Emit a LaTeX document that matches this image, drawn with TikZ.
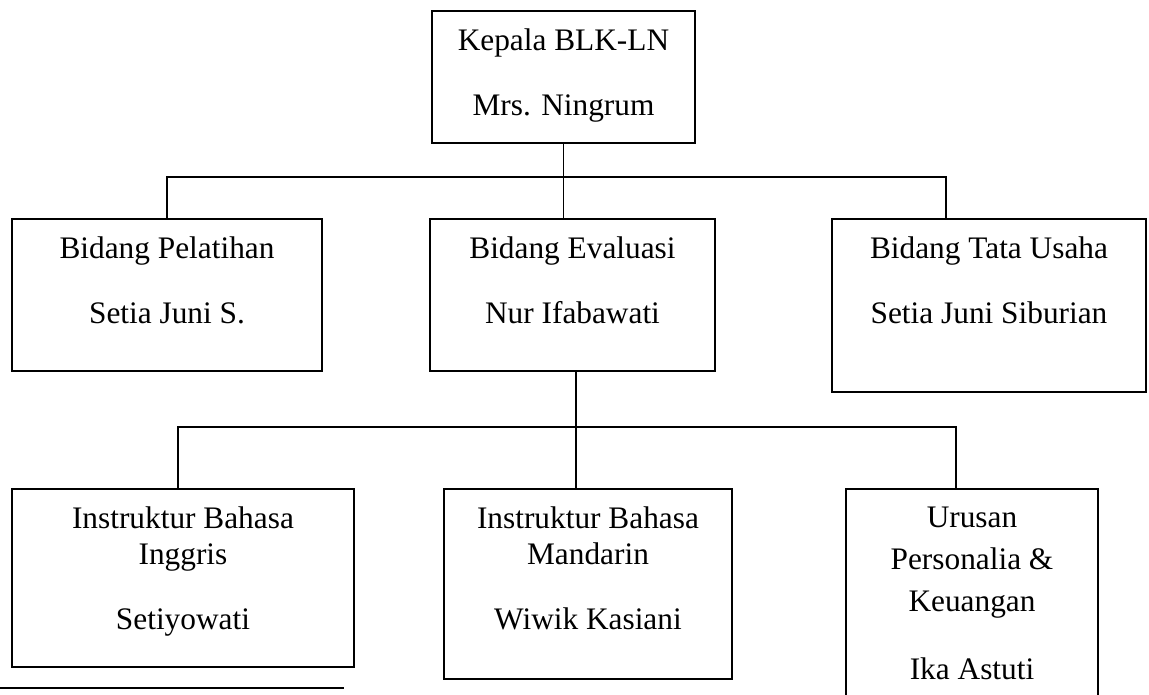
\documentclass[tikz,border=0pt]{standalone}
\usepackage{fontspec}
\setmainfont{Liberation Serif}
\usetikzlibrary{calc}

\newdimen\pxu \pxu=0.75pt
% box text: width, height (px), content
\newcommand{\unitbox}[3]{\begin{minipage}[t][#2\pxu][t]{#1\pxu}\centering\vspace*{18\pxu}#3\end{minipage}}

\begin{document}
\begin{tikzpicture}[x=0.75pt, y=-0.75pt,
    unit/.style={draw, line width=1.2pt, inner sep=0pt, outer sep=0pt, anchor=north west,
        font=\fontsize{23.5pt}{27pt}\selectfont},
    link/.style={line width=1pt}]

    \useasboundingbox (0,0) rectangle (1149,695);
    \clip (0,0) rectangle (1149,695);

    % head
    \node[unit] (head) at (432,11) {\unitbox{263}{132}{Kepala BLK-LN\\[21.75pt]Mrs. Ningrum}};

    % bidang
    \node[unit] (pel) at (12,219) {\unitbox{310}{152}{Bidang Pelatihan\\[21.75pt]Setia Juni S.}};
    \node[unit] (eval) at (430,219) {\unitbox{285}{152}{Bidang Evaluasi\\[21.75pt]Nur Ifabawati}};
    \node[unit] (tu) at (832,219) {\unitbox{314}{173}{Bidang Tata Usaha\\[21.75pt]Setia Juni Siburian}};

    % bawah evaluasi
    \node[unit] (ins1) at (12,489) {\unitbox{342}{178}{Instruktur Bahasa\\Inggris\\[21.75pt]Setiyowati}};
    \node[unit] (ins2) at (444,489) {\unitbox{288}{190}{Instruktur Bahasa\\Mandarin\\[21.75pt]Wiwik Kasiani}};
    \node[unit] (urus) at (846,489) {\unitbox{252}{230}{Urusan\\[4.5pt]Personalia \&\\[4.5pt]Keuangan\\[24pt]Ika Astuti}};

    \coordinate (bus1) at (563,177);
    \coordinate (bus2) at (576,427);
    \coordinate (tu-in) at ($(tu.north west)!0.363!(tu.north east)$);
    \coordinate (ev-out) at ($(eval.south west)!0.512!(eval.south east)$);
    \coordinate (ins1-in) at ($(ins1.north west)!0.485!(ins1.north east)$);
    \coordinate (urus-in) at ($(urus.north west)!0.437!(urus.north east)$);

    \draw[link] (head.south) -- (head.south |- eval.north);
    \draw[link] (pel.north) |- (tu-in |- bus1) -- (tu-in);

    \draw[link] (ev-out) -- (ev-out |- ins2.north);
    \draw[link] (ins1-in) |- (urus-in |- bus2) -- (urus-in);

    % footnote rule
    \coordinate (rule-a) at (0,688);
    \coordinate (rule-b) at (344,688);
    \draw[line width=1.6pt] (rule-a) -- (rule-b);

\end{tikzpicture}
\end{document}
